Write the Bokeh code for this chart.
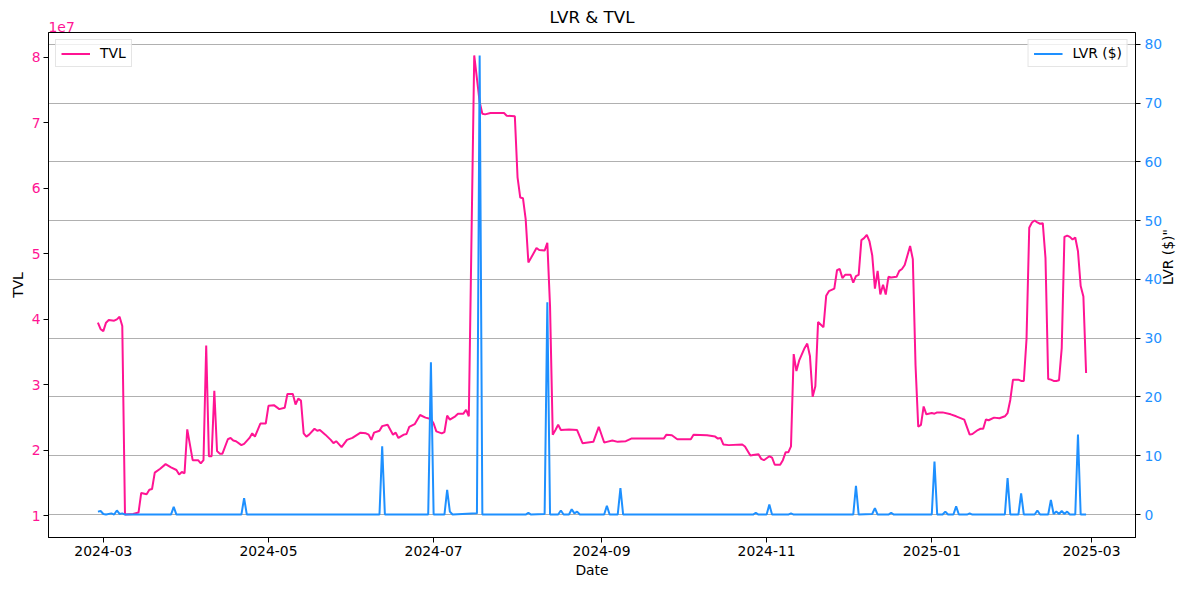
import math
import pandas as pd
from bokeh.plotting import figure
from bokeh.models import (ColumnDataSource, LinearAxis, Range1d, FixedTicker,
                          DatetimeTickFormatter, Legend, LegendItem, Grid, Title)
from bokeh.embed import file_html
from bokeh.resources import INLINE

# TVL (in units of 1e7 $)
tvl_dates = [
    "2024-02-28", "2024-02-29", "2024-03-01", "2024-03-02", "2024-03-03", "2024-03-05",
    "2024-03-06", "2024-03-07", "2024-03-08", "2024-03-09", "2024-03-12", "2024-03-14",
    "2024-03-15", "2024-03-17", "2024-03-18", "2024-03-19", "2024-03-20", "2024-03-22",
    "2024-03-24", "2024-03-26", "2024-03-28", "2024-03-29", "2024-03-30", "2024-03-31",
    "2024-04-01", "2024-04-03", "2024-04-05", "2024-04-06", "2024-04-07", "2024-04-08",
    "2024-04-09", "2024-04-10", "2024-04-11", "2024-04-12", "2024-04-13", "2024-04-14",
    "2024-04-16", "2024-04-17", "2024-04-18", "2024-04-19", "2024-04-21", "2024-04-22",
    "2024-04-24", "2024-04-25", "2024-04-26", "2024-04-28", "2024-04-30", "2024-05-01",
    "2024-05-03", "2024-05-05", "2024-05-07", "2024-05-08", "2024-05-10", "2024-05-11",
    "2024-05-12", "2024-05-13", "2024-05-14", "2024-05-15", "2024-05-16", "2024-05-18",
    "2024-05-19", "2024-05-20", "2024-05-22", "2024-05-24", "2024-05-25", "2024-05-26",
    "2024-05-28", "2024-05-30", "2024-06-01", "2024-06-04", "2024-06-06", "2024-06-07",
    "2024-06-08", "2024-06-09", "2024-06-11", "2024-06-12", "2024-06-14", "2024-06-16",
    "2024-06-17", "2024-06-18", "2024-06-20", "2024-06-21", "2024-06-22", "2024-06-24",
    "2024-06-26", "2024-06-28", "2024-06-30", "2024-07-01", "2024-07-02", "2024-07-04",
    "2024-07-05", "2024-07-06", "2024-07-07", "2024-07-09", "2024-07-10", "2024-07-12",
    "2024-07-13", "2024-07-14", "2024-07-16", "2024-07-18", "2024-07-19", "2024-07-20",
    "2024-07-22", "2024-07-27", "2024-07-28", "2024-07-31", "2024-08-01", "2024-08-02",
    "2024-08-03", "2024-08-04", "2024-08-05", "2024-08-06", "2024-08-08", "2024-08-09",
    "2024-08-11", "2024-08-12", "2024-08-13", "2024-08-14", "2024-08-15", "2024-08-16",
    "2024-08-17", "2024-08-20", "2024-08-23", "2024-08-25", "2024-08-29", "2024-08-31",
    "2024-09-02", "2024-09-03", "2024-09-05", "2024-09-07", "2024-09-10", "2024-09-12",
    "2024-09-24", "2024-09-25", "2024-09-27", "2024-09-29", "2024-10-04", "2024-10-05",
    "2024-10-10", "2024-10-13", "2024-10-14", "2024-10-15", "2024-10-16", "2024-10-18",
    "2024-10-23", "2024-10-24", "2024-10-26", "2024-10-27", "2024-10-29", "2024-10-30",
    "2024-10-31", "2024-11-02", "2024-11-03", "2024-11-04", "2024-11-06", "2024-11-07",
    "2024-11-08", "2024-11-09", "2024-11-10", "2024-11-11", "2024-11-12", "2024-11-13",
    "2024-11-15", "2024-11-16", "2024-11-17", "2024-11-18", "2024-11-19", "2024-11-20",
    "2024-11-22", "2024-11-23", "2024-11-24", "2024-11-26", "2024-11-27", "2024-11-28",
    "2024-11-29", "2024-11-30", "2024-12-02", "2024-12-03", "2024-12-04", "2024-12-05",
    "2024-12-06", "2024-12-07", "2024-12-08", "2024-12-09", "2024-12-10", "2024-12-11",
    "2024-12-12", "2024-12-13", "2024-12-14", "2024-12-15", "2024-12-16", "2024-12-17",
    "2024-12-19", "2024-12-20", "2024-12-21", "2024-12-22", "2024-12-24", "2024-12-25",
    "2024-12-26", "2024-12-27", "2024-12-28", "2024-12-29", "2024-12-30", "2025-01-01",
    "2025-01-02", "2025-01-03", "2025-01-05", "2025-01-08", "2025-01-10", "2025-01-13",
    "2025-01-15", "2025-01-16", "2025-01-18", "2025-01-19", "2025-01-20", "2025-01-21",
    "2025-01-22", "2025-01-24", "2025-01-26", "2025-01-28", "2025-01-29", "2025-01-30",
    "2025-01-31", "2025-02-02", "2025-02-03", "2025-02-04", "2025-02-05", "2025-02-06",
    "2025-02-07", "2025-02-08", "2025-02-09", "2025-02-10", "2025-02-11", "2025-02-12",
    "2025-02-13", "2025-02-14", "2025-02-15", "2025-02-16", "2025-02-17", "2025-02-18",
    "2025-02-19", "2025-02-20", "2025-02-21", "2025-02-22", "2025-02-23", "2025-02-24",
    "2025-02-25", "2025-02-26", "2025-02-27",
]
tvl_values = [
    3.95, 3.85, 3.82, 3.95, 3.99, 3.98,
    4.00, 4.04, 3.90, 1.02, 1.03, 1.05,
    1.35, 1.33, 1.40, 1.41, 1.66, 1.72,
    1.79, 1.74, 1.70, 1.63, 1.67, 1.65,
    2.32, 1.85, 1.85, 1.80, 1.85, 3.60,
    1.91, 1.91, 2.91, 1.99, 1.95, 1.95,
    2.17, 2.19, 2.15, 2.14, 2.08, 2.10,
    2.19, 2.26, 2.21, 2.41, 2.41, 2.68,
    2.69, 2.63, 2.65, 2.86, 2.86, 2.70,
    2.79, 2.76, 2.26, 2.21, 2.24, 2.33,
    2.30, 2.31, 2.24, 2.16, 2.11, 2.14,
    2.05, 2.16, 2.19, 2.27, 2.26, 2.24,
    2.16, 2.27, 2.30, 2.37, 2.39, 2.24,
    2.27, 2.19, 2.24, 2.25, 2.36, 2.40,
    2.54, 2.50, 2.48, 2.41, 2.29, 2.26,
    2.28, 2.53, 2.47, 2.52, 2.56, 2.56,
    2.62, 2.52, 8.03, 7.32, 7.14, 7.13,
    7.15, 7.15, 7.11, 7.10, 6.17, 5.86,
    5.85, 5.53, 4.87, 4.94, 5.09, 5.06,
    5.05, 5.17, 4.20, 2.24, 2.31, 2.39,
    2.31, 2.32, 2.31, 2.11, 2.13, 2.36,
    2.12, 2.13, 2.15, 2.13, 2.14, 2.18,
    2.18, 2.24, 2.23, 2.17, 2.17, 2.24,
    2.23, 2.21, 2.18, 2.19, 2.09, 2.08,
    2.09, 2.06, 1.92, 1.93, 1.94, 1.87,
    1.85, 1.91, 1.89, 1.78, 1.78, 1.85,
    1.97, 1.97, 2.06, 3.47, 3.21, 3.37,
    3.56, 3.63, 3.44, 2.82, 2.98, 3.96,
    3.88, 4.36, 4.43, 4.47, 4.75, 4.77,
    4.63, 4.68, 4.68, 4.56, 4.66, 4.68,
    5.21, 5.24, 5.29, 5.19, 4.98, 4.47,
    4.74, 4.38, 4.53, 4.38, 4.65, 4.64,
    4.65, 4.74, 4.77, 4.83, 5.12, 4.92,
    3.30, 2.36, 2.39, 2.67, 2.55, 2.57,
    2.56, 2.58, 2.58, 2.55, 2.52, 2.47,
    2.24, 2.25, 2.31, 2.33, 2.33, 2.47,
    2.46, 2.50, 2.49, 2.52, 2.57, 2.77,
    3.08, 3.08, 3.06, 3.06, 3.70, 5.40,
    5.48, 5.51, 5.48, 5.46, 5.47, 4.94,
    3.09, 3.08, 3.06, 3.06, 3.07, 3.56,
    5.26, 5.28, 5.26, 5.22, 5.25, 5.04,
    4.51, 4.35, 3.18,
]

# LVR ($)
lvr_dates = [
    "2024-02-28", "2024-02-29", "2024-03-01", "2024-03-02", "2024-03-04", "2024-03-05",
    "2024-03-06", "2024-03-07", "2024-03-08", "2024-03-09", "2024-03-26", "2024-03-27",
    "2024-03-28", "2024-04-21", "2024-04-22", "2024-04-23", "2024-06-11", "2024-06-12",
    "2024-06-13", "2024-06-29", "2024-06-30", "2024-07-01", "2024-07-05", "2024-07-06",
    "2024-07-07", "2024-07-08", "2024-07-17", "2024-07-18", "2024-07-19", "2024-08-04",
    "2024-08-05", "2024-08-06", "2024-08-11", "2024-08-12", "2024-08-13", "2024-08-16",
    "2024-08-17", "2024-08-18", "2024-08-20", "2024-08-21", "2024-08-22", "2024-08-23",
    "2024-08-24", "2024-09-02", "2024-09-03", "2024-09-04", "2024-09-07", "2024-09-08",
    "2024-09-09", "2024-10-27", "2024-10-28", "2024-10-29", "2024-11-01", "2024-11-02",
    "2024-11-03", "2024-11-09", "2024-11-10", "2024-11-11", "2024-12-03", "2024-12-04",
    "2024-12-05", "2024-12-10", "2024-12-11", "2024-12-12", "2024-12-16", "2024-12-17",
    "2024-12-18", "2025-01-01", "2025-01-02", "2025-01-03", "2025-01-05", "2025-01-06",
    "2025-01-07", "2025-01-09", "2025-01-10", "2025-01-11", "2025-01-14", "2025-01-15",
    "2025-01-16", "2025-01-28", "2025-01-29", "2025-01-30", "2025-02-02", "2025-02-03",
    "2025-02-04", "2025-02-08", "2025-02-09", "2025-02-10", "2025-02-13", "2025-02-14",
    "2025-02-15", "2025-02-16", "2025-02-17", "2025-02-18", "2025-02-19", "2025-02-20",
    "2025-02-21", "2025-02-23", "2025-02-24", "2025-02-25", "2025-02-27",
]
lvr_values = [
    0.5, 0.6, 0.1, 0.0, 0.2, 0.0,
    0.7, 0.1, 0.2, 0.0, 0.0, 1.3,
    0.0, 0.0, 2.8, 0.0, 0.0, 11.6,
    0.0, 0.0, 25.9, 0.0, 0.0, 4.2,
    0.5, 0.0, 0.2, 78.1, 0.0, 0.0,
    0.3, 0.0, 0.1, 36.1, 0.0, 0.0,
    0.7, 0.0, 0.0, 0.9, 0.2, 0.5,
    0.0, 0.0, 1.5, 0.0, 0.0, 4.5,
    0.0, 0.0, 0.3, 0.0, 0.0, 1.7,
    0.0, 0.0, 0.2, 0.0, 0.0, 4.9,
    0.0, 0.1, 1.1, 0.0, 0.0, 0.3,
    0.0, 0.0, 9.0, 0.0, 0.0, 0.5,
    0.0, 0.0, 1.4, 0.0, 0.0, 0.2,
    0.0, 0.0, 6.2, 0.0, 0.0, 3.6,
    0.0, 0.0, 0.7, 0.0, 0.0, 2.5,
    0.1, 0.5, 0.1, 0.6, 0.1, 0.5,
    0.0, 0.0, 13.6, 0.0, 0.0,
]

x_tick_labels = ["2024-03", "2024-05", "2024-07", "2024-09", "2024-11", "2025-01", "2025-03"]
tvl_ticks = [1, 2, 3, 4, 5, 6, 7, 8]
lvr_ticks = [0, 10, 20, 30, 40, 50, 60, 70, 80]

PINK = "#ff1493"
BLUE = "#1e90ff"
FONT = "DejaVu Sans"
FS = "13.9px"

tvl_src = ColumnDataSource(dict(date=pd.to_datetime(tvl_dates), tvl=tvl_values))
lvr_src = ColumnDataSource(dict(date=pd.to_datetime(lvr_dates), lvr=lvr_values))


def padded(lo, hi, frac=0.05):
    span = hi - lo
    return lo - span * frac, hi + span * frac


all_dates = pd.to_datetime(tvl_dates + lvr_dates)
x0, x1 = padded(all_dates.min(), all_dates.max())
y0, y1 = padded(min(tvl_values), max(tvl_values))
r0, r1 = padded(min(lvr_values), max(lvr_values))

p = figure(width=1187, height=582, x_axis_type="datetime",
           x_range=Range1d(x0.to_pydatetime(), x1.to_pydatetime()),
           y_range=Range1d(y0, y1),
           output_backend="svg", toolbar_location=None,
           min_border_left=48, min_border_right=48, min_border_top=32, min_border_bottom=45)
p.extra_y_ranges = {"lvr": Range1d(r0, r1)}

p.title.text = "LVR & TVL"
p.title.align = "center"
p.title.text_font = FONT
p.title.text_font_size = "16.7px"
p.title.text_font_style = "normal"
p.title.text_color = "black"
p.title.standoff = -14

# scale note of the left axis, as matplotlib shows it
p.add_layout(Title(text="1e7", align="left", text_color=PINK, text_font=FONT,
                   text_font_size=FS, text_font_style="normal", standoff=1), "above")

p.outline_line_color = "black"
p.outline_line_alpha = 1
p.xgrid.visible = False
p.ygrid.visible = False


def style_axis(ax, color):
    ax.major_label_text_font = FONT
    ax.major_label_text_font_size = FS
    ax.major_label_text_color = color
    ax.axis_label_text_font = FONT
    ax.axis_label_text_font_size = FS
    ax.axis_label_text_font_style = "normal"
    ax.axis_label_text_color = "black"
    ax.major_tick_out = 5
    ax.major_tick_in = 0
    ax.minor_tick_out = 0
    ax.minor_tick_in = 0
    ax.axis_line_color = "black"
    ax.major_tick_line_color = "black"
    ax.major_label_standoff = 3
    ax.axis_label_standoff = 3


xax = p.xaxis[0]
style_axis(xax, "black")
xax.axis_label = "Date"
xax.ticker = FixedTicker(ticks=[pd.Timestamp(t + "-01").timestamp() * 1000 for t in x_tick_labels])
fmt = "%Y-%m"
xax.formatter = DatetimeTickFormatter(years=fmt, months=fmt, days=fmt, hours=fmt)

yax = p.yaxis[0]
style_axis(yax, PINK)
yax.axis_label = "TVL"
yax.ticker = FixedTicker(ticks=tvl_ticks)

rax = LinearAxis(y_range_name="lvr", axis_label='LVR ($)"', ticker=FixedTicker(ticks=lvr_ticks))
style_axis(rax, BLUE)
rax.major_label_standoff = 4
rax.axis_label_orientation = math.pi / 2
p.add_layout(rax, "right")

grid = Grid(dimension=1, ticker=rax.ticker, y_range_name="lvr",
            grid_line_color="#b0b0b0", grid_line_width=1)
p.add_layout(grid)

r_tvl = p.line("date", "tvl", source=tvl_src, line_color=PINK, line_width=2)
r_lvr = p.line("date", "lvr", source=lvr_src, line_color=BLUE, line_width=2, y_range_name="lvr")

for item, loc in ((LegendItem(label="TVL", renderers=[r_tvl]), "top_left"),
                  (LegendItem(label="LVR ($)", renderers=[r_lvr]), "top_right")):
    leg = Legend(items=[item], location=loc)
    leg.margin = 7
    leg.padding = 5
    leg.spacing = 0
    leg.glyph_width = 29
    leg.glyph_height = 15
    leg.label_standoff = 10
    leg.label_text_font = FONT
    leg.label_text_font_size = FS
    leg.label_text_color = "black"
    leg.border_line_color = "#cccccc"
    leg.background_fill_alpha = 0.8
    p.add_layout(leg)

open("out.html", "w").write(file_html(p, INLINE))
